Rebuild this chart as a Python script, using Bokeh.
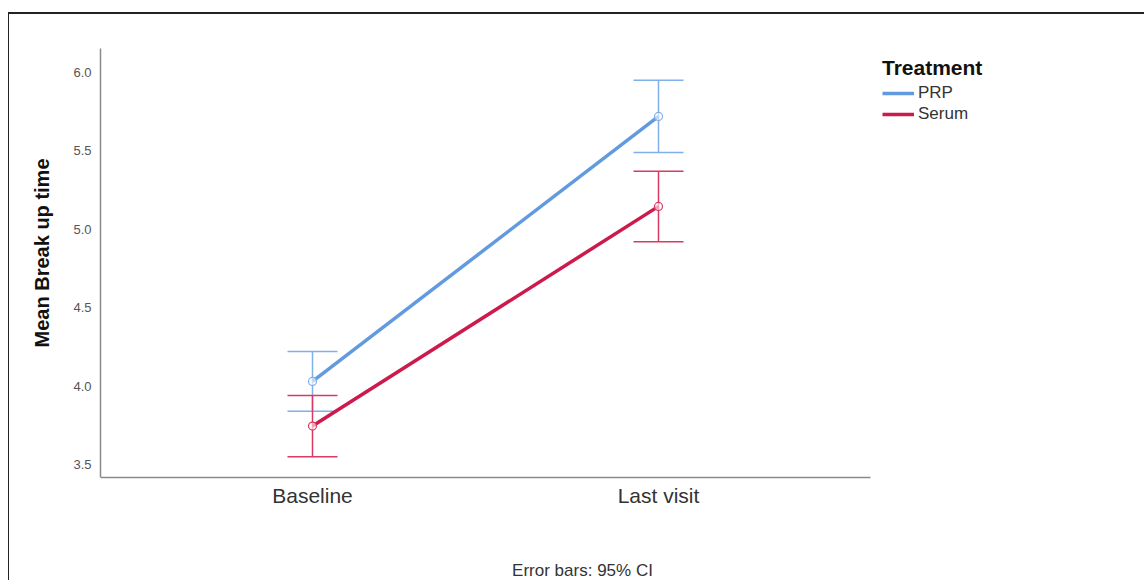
from bokeh.plotting import figure
from bokeh.models import (Range1d, FixedTicker, Whisker, TeeHead, ColumnDataSource,
                          Legend, LegendItem, Label, Title)
from bokeh.embed import file_html
from bokeh.resources import INLINE

categories = ["Baseline", "Last visit"]
series_names = ["PRP", "Serum"]
prp_mean = [4.03, 5.72]
prp_lower = [3.84, 5.49]
prp_upper = [4.22, 5.95]
serum_mean = [3.745, 5.146]
serum_lower = [3.55, 4.92]
serum_upper = [3.94, 5.37]
y_ticks = [3.5, 4.0, 4.5, 5.0, 5.5, 6.0]
y_axis_min, y_axis_max = 3.417, 6.153

line_colors = ["#629ae0", "#cc1a4c"]
bar_colors = ["#7fb0ea", "#d83a64"]

FONT = "Liberation Sans"

# The frame covers the whole drawing area; axis lines are limited with `bounds`
# and the x axis is pinned at the bottom of the value range.
W, H = 1136, 568
frame_left, frame_right, frame_top, frame_bottom = 91, 1126, 34, 566
PX_PER_CAT = 346.0
PX_PER_UNIT = 156.8
x_start = -212.0 / PX_PER_CAT
x_end = x_start + (frame_right - frame_left) / PX_PER_CAT
axis_end = 1 - x_start
y_end = y_axis_max
y_start = y_end - (frame_bottom - frame_top) / PX_PER_UNIT

p = figure(width=W, height=H, output_backend="svg", toolbar_location=None,
           x_range=Range1d(x_start, x_end), y_range=Range1d(y_start, y_end),
           min_border_left=frame_left, min_border_right=W - frame_right,
           min_border_top=frame_top, min_border_bottom=H - frame_bottom)
p.styles = {"margin-left": "8px", "margin-top": "12px",
            "border-left": "1px solid #222222", "border-top": "2px solid #222222"}
p.outline_line_color = None
p.xgrid.visible = False
p.ygrid.visible = False
p.background_fill_color = "white"
p.border_fill_color = "white"

xs = list(range(len(categories)))
series = [
    (series_names[0], prp_mean, prp_lower, prp_upper),
    (series_names[1], serum_mean, serum_lower, serum_upper),
]

items = []
for i, (name, mean, lo, hi) in enumerate(series):
    src = ColumnDataSource(dict(x=xs, mean=mean, lower=lo, upper=hi))
    w = Whisker(source=src, base="x", lower="lower", upper="upper", dimension="height",
                line_color=bar_colors[i], line_width=1.5,
                upper_head=TeeHead(size=50, line_color=bar_colors[i], line_width=1.5),
                lower_head=TeeHead(size=50, line_color=bar_colors[i], line_width=1.5))
    p.add_layout(w)
for i, (name, mean, lo, hi) in enumerate(series):
    src = ColumnDataSource(dict(x=xs, mean=mean))
    r = p.line("x", "mean", source=src, line_color=line_colors[i], line_width=3.5)
    p.scatter("x", "mean", source=src, marker="circle", size=8, line_color=bar_colors[i],
              fill_color="white", fill_alpha=0.6, line_width=1.2)
    items.append(LegendItem(label=name, renderers=[r]))

legend = Legend(items=items, title="Treatment", location=(782, 456),
                margin=0, padding=10, spacing=1,
                glyph_width=32, glyph_height=20, label_height=20,
                title_text_font=FONT, title_text_font_style="bold",
                title_text_font_size="21px", title_text_color="#111111", title_standoff=3,
                label_text_font=FONT, label_text_font_size="17px", label_text_color="#333333",
                label_standoff=4, border_line_color=None, background_fill_alpha=0)
p.add_layout(legend)

# axes
p.xaxis.ticker = FixedTicker(ticks=xs)
p.xaxis.major_label_overrides = {i: c for i, c in enumerate(categories)}
p.xaxis.bounds = (x_start, axis_end)
p.xaxis.fixed_location = y_axis_min
p.yaxis.ticker = FixedTicker(ticks=y_ticks)
p.yaxis.major_label_overrides = {t: f"{t:.1f}" for t in y_ticks}
p.yaxis.bounds = (y_axis_min, y_axis_max)
for ax in (p.xaxis, p.yaxis):
    ax.axis_line_color = "#8a8a8a"
    ax.axis_line_width = 1.5
    ax.major_tick_line_color = None
    ax.minor_tick_line_color = None
    ax.major_label_text_font = FONT
p.xaxis.major_label_text_font_size = "21px"
p.xaxis.major_label_text_color = "#333333"
p.xaxis.major_label_standoff = 0
p.yaxis.major_label_text_font_size = "13px"
p.yaxis.major_label_text_color = "#555555"
p.yaxis.major_label_standoff = 3

# y axis title, placed along the value range rather than the whole frame
ytitle = Title(text="Mean Break up time", align="right", offset=110,
               vertical_align="middle", standoff=34,
               text_font=FONT, text_font_size="20px", text_font_style="bold",
               text_color="#111111")
p.add_layout(ytitle, "left")

note = Label(x=482, y=10, x_units="screen", y_units="screen", text="Error bars: 95% CI",
             text_font=FONT, text_font_size="17px", text_color="#333333",
             text_align="center", text_baseline="middle")
p.add_layout(note)

open("out.html", "w").write(file_html(p, INLINE))
